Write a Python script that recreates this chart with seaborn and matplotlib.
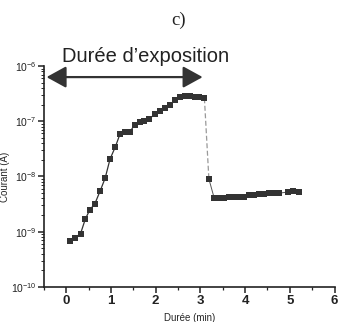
import numpy as np
import pandas as pd
import seaborn as sns
import matplotlib
matplotlib.use("Agg")
import matplotlib.pyplot as plt
from matplotlib.ticker import LogLocator, MultipleLocator, FixedLocator
from matplotlib.patches import ArrowStyle

# ---- data ----
time_rise = [0.09, 0.20, 0.32, 0.43, 0.53, 0.64, 0.76, 0.87, 0.98, 1.10,
             1.20, 1.31, 1.42, 1.53, 1.64, 1.75, 1.86, 1.98, 2.10, 2.21,
             2.32, 2.43, 2.54, 2.65, 2.76, 2.87, 2.98, 3.09]
current_rise = [6.8e-10, 7.8e-10, 9.2e-10, 1.72e-9, 2.5e-9, 3.2e-9, 5.5e-9,
                9.3e-9, 2.07e-8, 3.46e-8, 5.8e-8, 6.3e-8, 6.3e-8, 8.7e-8,
                9.7e-8, 1.02e-7, 1.11e-7, 1.34e-7, 1.53e-7, 1.71e-7, 1.95e-7,
                2.39e-7, 2.75e-7, 2.83e-7, 2.83e-7, 2.80e-7, 2.71e-7, 2.60e-7]
time_drop = [3.19]
current_drop = [9.0e-9]
time_flat = [3.31, 3.42, 3.53, 3.64, 3.75, 3.87, 3.98, 4.09, 4.20, 4.31,
             4.42, 4.53, 4.64, 4.75, 4.97, 5.08, 5.21]
current_flat = [4.03e-9, 4.03e-9, 4.13e-9, 4.20e-9, 4.20e-9, 4.20e-9, 4.31e-9,
                4.57e-9, 4.68e-9, 4.76e-9, 4.88e-9, 5.03e-9, 4.97e-9, 4.97e-9,
                5.24e-9, 5.40e-9, 5.18e-9]

x_ticks = [0, 1, 2, 3, 4, 5, 6]
y_ticks = [1e-10, 1e-9, 1e-8, 1e-7, 1e-6]
title_text = "Durée d\u2019exposition"
panel_label = "c)"
x_label = "Durée (min)"
y_label = "Courant (A)"

sns.set_style("ticks")
plt.rcParams['font.family'] = ['Liberation Sans', 'DejaVu Sans']

fig = plt.figure(figsize=(3.4, 3.22), dpi=100)
ax = fig.add_axes([0.129, 0.109, 0.855, 0.686])

col = "#333333"
df_rise = pd.DataFrame({"t": time_rise, "I": current_rise})
df_jump = pd.DataFrame({"t": time_rise[-1:] + time_drop,
                        "I": current_rise[-1:] + current_drop})
df_flat = pd.DataFrame({"t": time_drop + time_flat,
                        "I": current_drop + current_flat})
df_all = pd.DataFrame({"t": time_rise + time_drop + time_flat,
                       "I": current_rise + current_drop + current_flat})

sns.lineplot(data=df_rise, x="t", y="I", ax=ax, color=col, lw=0.9,
             estimator=None, sort=False)
sns.lineplot(data=df_jump, x="t", y="I", ax=ax, color="#999999", lw=0.9,
             ls=(0, (4, 2)), estimator=None, sort=False)
sns.lineplot(data=df_flat, x="t", y="I", ax=ax, color="#555555", lw=0.7,
             estimator=None, sort=False)
sns.scatterplot(data=df_all, x="t", y="I", ax=ax, color=col, marker="s",
                s=15, linewidth=0, zorder=3)

ax.set_yscale("log")
ax.set_xlim(-0.5, 6)
ax.set_ylim(1e-10, 1e-6)
ax.xaxis.set_major_locator(FixedLocator(x_ticks))
ax.xaxis.set_minor_locator(MultipleLocator(0.5))
ax.yaxis.set_major_locator(FixedLocator(y_ticks))
ax.yaxis.set_minor_locator(LogLocator(base=10, subs=np.arange(2, 10), numticks=20))
sns.despine(ax=ax)
for s in ["left", "bottom"]:
    ax.spines[s].set_linewidth(1.2)
    ax.spines[s].set_color("#222222")
ax.tick_params(axis="x", which="major", length=4, width=1.1, labelsize=9.5,
               direction="out", pad=2, colors="#222222")
for lab in ax.get_xticklabels():
    lab.set_fontweight("bold")
ax.tick_params(axis="x", which="minor", length=2.5, width=0.9, direction="out")
ax.tick_params(axis="y", which="major", length=4, width=1.1, labelsize=7.5,
               direction="out", pad=1, colors="#222222")
ax.tick_params(axis="y", which="minor", length=2, width=0.7, direction="out")
ax.set_xlabel(x_label, fontsize=7, labelpad=4)
ax.set_ylabel(y_label, fontsize=7, labelpad=1)

ax.annotate("", xy=(-0.44, 6.3e-7), xytext=(3.05, 6.3e-7),
            xycoords="data", textcoords="data", annotation_clip=False,
            arrowprops=dict(arrowstyle=ArrowStyle("<|-|>", head_length=0.6,
                                                  head_width=0.33),
                            mutation_scale=20, lw=1.6, color="#333333",
                            shrinkA=0, shrinkB=0))

fig.text(0.427, 0.823, title_text, ha="center", va="center", fontsize=14.5,
         color="#222222")
fig.text(0.524, 0.938, panel_label, ha="center", va="center", fontsize=13.5,
         family=["Liberation Serif", "DejaVu Serif"], color="#222222")

fig.savefig("out.png", dpi=100)
